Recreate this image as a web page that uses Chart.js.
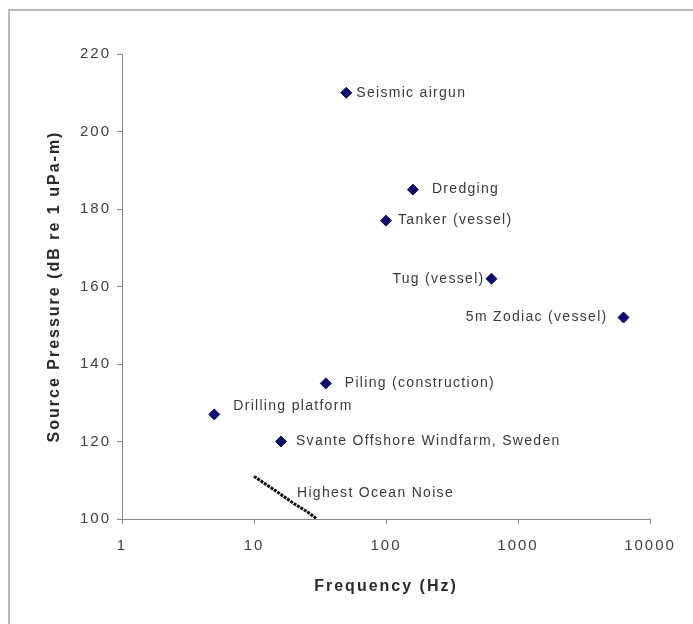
<!DOCTYPE html>
<html>
<head>
<meta charset="utf-8">
<script src="https://cdn.jsdelivr.net/npm/chart.js@4"></script>
<style>
    body { margin: 0; background: #fff; }
    #frame {
        position: absolute; left: 8px; top: 9px; width: 700px; height: 640px;
        border-left: 2px solid #b8b8b8; border-top: 2px solid #b8b8b8;
    }
    #wrap { position: absolute; left: 0; top: 0; width: 693px; height: 624px; }
</style>
</head>
<body>
<div id="frame"></div>
<div id="wrap"><canvas id="chart" width="693" height="624"></canvas></div>
<script>
// sources: frequency (Hz) vs source pressure (dB re 1 uPa-m)
var names = ['Seismic airgun', 'Dredging', 'Tanker (vessel)', 'Tug (vessel)', '5m Zodiac (vessel)',
             'Piling (construction)', 'Drilling platform', 'Svante Offshore Windfarm, Sweden'];
var freqs = [50, 160, 100, 630, 6300, 35, 5, 16];
var levels = [210, 185, 177, 162, 152, 135, 127, 120];

// highest ocean noise curve
var noiseFreq = [10, 15, 20, 25, 30];
var noiseLevel = [111, 107, 104, 102, 100];
var noiseName = 'Highest Ocean Noise';

var xTicks = [1, 10, 100, 1000, 10000];

// label placement: dx, dy, align
var labelPos = [
    [10, 0, 'left'], [19, 0, 'left'], [12, 0, 'left'], [-7, 0, 'right'], [-16, 0, 'right'],
    [19, 0, 'left'], [19, -8, 'left'], [15, 0, 'left']
];

// the old picture is wide, so text gets some extra spacing
var spacing = {
    id: 'spacing',
    beforeDraw: function (chart) { chart.ctx.letterSpacing = '2px'; }
};

var labels = {
    id: 'labels',
    afterDatasetsDraw: function (chart) {
        var ctx = chart.ctx;
        var meta = chart.getDatasetMeta(0);
        ctx.save();
        ctx.letterSpacing = '1.3px';
        ctx.font = '14px "Liberation Sans", Arial, sans-serif';
        ctx.fillStyle = '#3a3a3a';
        ctx.textBaseline = 'middle';
        meta.data.forEach(function (pt, k) {
            var p = labelPos[k];
            ctx.textAlign = p[2];
            ctx.fillText(names[k], pt.x + p[0], pt.y + p[1]);
        });
        // noise label sits right of the curve
        var a = chart.getDatasetMeta(1).data[0];
        ctx.textAlign = 'left';
        ctx.fillText(noiseName, a.x + 43, a.y + 17);
        ctx.restore();
    }
};

Chart.defaults.font.family = '"Liberation Sans", Arial, sans-serif';
Chart.defaults.color = '#404040';

new Chart(document.getElementById('chart'), {
    type: 'scatter',
    data: {
        datasets: [{
            label: 'Sources',
            data: freqs.map(function (f, k) { return {x: f, y: levels[k]}; }),
            pointStyle: 'rectRot',
            pointRadius: 5.5,
            backgroundColor: '#0c0c6a',
            borderColor: '#0c0c6a'
        }, {
            label: noiseName,
            data: noiseFreq.map(function (f, k) { return {x: f, y: noiseLevel[k]}; }),
            showLine: true,
            pointRadius: 0,
            borderColor: '#111',
            borderWidth: 3,
            borderDash: [3, 1]
        }]
    },
    options: {
        responsive: false,
        animation: false,
        layout: { padding: { left: 41, right: 43, top: 54, bottom: 20 } },
        plugins: { legend: { display: false }, tooltip: { enabled: false } },
        scales: {
            x: {
                type: 'logarithmic',
                min: 1, max: 10000,
                afterBuildTicks: function (s) {
                    s.ticks = xTicks.map(function (v) { return {value: v}; });
                },
                afterFit: function (s) { s.height = 85; },
                ticks: {
                    font: { size: 15 },
                    padding: 13,
                    maxRotation: 0,
                    callback: function (v) { return String(v); }
                },
                grid: { drawOnChartArea: false, tickLength: 5, color: '#888' },
                border: { color: '#888', width: 1 },
                title: {
                    display: true, text: 'Frequency (Hz)',
                    font: { size: 16, weight: 'bold' }, color: '#2a2a2a', padding: { top: 4, bottom: 8 }
                }
            },
            y: {
                min: 100, max: 220,
                ticks: { stepSize: 20, font: { size: 15 }, padding: 6 },
                afterFit: function (s) { s.width = 122 - 41; },
                grid: { drawOnChartArea: false, tickLength: 5, color: '#888' },
                border: { color: '#888', width: 1 },
                title: {
                    display: true, text: 'Source Pressure (dB re 1 uPa-m)',
                    font: { size: 16, weight: 'bold' }, color: '#2a2a2a', padding: { top: 4, bottom: 4 }
                }
            }
        }
    },
    plugins: [spacing, labels]
});
</script>
</body>
</html>
